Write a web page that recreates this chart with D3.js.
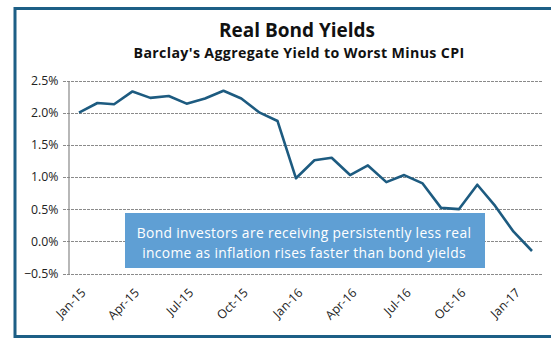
<!DOCTYPE html>
<html>
<head>
<meta charset="utf-8">
<script src="https://cdn.jsdelivr.net/npm/d3@7"></script>
<style>
  html, body { margin: 0; padding: 0; background: #fff; }
  svg { display: block; }
  text { font-family: "Open Sans", "Noto Sans", sans-serif; }
</style>
</head>
<body>
<svg id="chart" width="551" height="339"></svg>
<script>
// Monthly real yield (Barclay's Aggregate YTW minus CPI), Jan-2015 .. Feb-2017
const months = [
  "2015-01","2015-02","2015-03","2015-04","2015-05","2015-06","2015-07","2015-08",
  "2015-09","2015-10","2015-11","2015-12","2016-01","2016-02","2016-03","2016-04",
  "2016-05","2016-06","2016-07","2016-08","2016-09","2016-10","2016-11","2016-12",
  "2017-01","2017-02"
];
const realYield = [
  2.00, 2.15, 2.13, 2.33, 2.23, 2.26, 2.14, 2.22,
  2.34, 2.22, 2.00, 1.87, 0.98, 1.26, 1.30, 1.03,
  1.18, 0.92, 1.03, 0.90, 0.52, 0.50, 0.88, 0.55,
  0.15, -0.15
];
const yTicks = [-0.5, 0.0, 0.5, 1.0, 1.5, 2.0, 2.5];
const xTickMonths = ["2015-01","2015-04","2015-07","2015-10","2016-01","2016-04","2016-07","2016-10","2017-01"];

const title = "Real Bond Yields";
const subtitle = "Barclay's Aggregate Yield to Worst Minus CPI";
const noteLines = [
  "Bond investors are receiving persistently less real",
  "income as inflation rises faster than bond yields"
];

const parse = d3.utcParse("%Y-%m");
const data = months.map((m, i) => ({ date: parse(m), value: realYield[i] }));

const svg = d3.select("#chart");

// frame around the chart
svg.append("rect")
  .attr("x", 15).attr("y", 8.5)
  .attr("width", 560).attr("height", 328)
  .attr("fill", "none")
  .attr("stroke", "#1d5f86")
  .attr("stroke-width", 3);

const plotLeft = 68, plotRight = 543;
const x = d3.scaleUtc()
  .domain([parse("2015-01"), parse("2017-02")])
  .range([79, 532]);
const y = d3.scaleLinear()
  .domain([-0.5, 2.5])
  .range([273.5, 80.5]);

// titles
svg.append("text")
  .attr("x", 297).attr("y", 37)
  .attr("text-anchor", "middle")
  .attr("font-size", 19).attr("font-weight", 700)
  .attr("fill", "#111")
  .text(title);
svg.append("text")
  .attr("x", 299).attr("y", 58)
  .attr("text-anchor", "middle")
  .attr("font-size", 14.2).attr("font-weight", 700)
  .attr("letter-spacing", 0.35)
  .attr("fill", "#111")
  .text(subtitle);

// horizontal gridlines
svg.append("g")
  .selectAll("line")
  .data(yTicks)
  .join("line")
  .attr("x1", plotLeft - 5).attr("x2", plotRight)
  .attr("y1", d => Math.round(y(d)) + 0.5)
  .attr("y2", d => Math.round(y(d)) + 0.5)
  .attr("stroke", "#8a8a8a")
  .attr("stroke-width", 1.1)
  .attr("stroke-dasharray", "3,1");

// y axis
const yAxis = d3.axisLeft(y)
  .tickValues(yTicks)
  .tickSize(0)
  .tickPadding(10)
  .tickFormat(d => d3.format(".1f")(d) + "%");
const gy = svg.append("g")
  .attr("transform", `translate(${plotLeft + 0.5},0)`)
  .call(yAxis);
gy.select(".domain").attr("stroke", "#888").attr("stroke-width", 1.2);
gy.selectAll("text")
  .attr("font-size", 12.3)
  .attr("fill", "#222");

// x axis labels, rotated
const xAxis = d3.axisBottom(x)
  .tickValues(xTickMonths.map(parse))
  .tickSize(0)
  .tickFormat(d3.utcFormat("%b-%y"));
const gx = svg.append("g")
  .attr("transform", `translate(0,${y(-0.5)})`)
  .call(xAxis);
gx.select(".domain").remove();
gx.selectAll("text")
  .attr("font-size", 12.3)
  .attr("fill", "#222")
  .attr("text-anchor", "end")
  .attr("dy", 0)
  .attr("y", 0)
  .attr("transform", "translate(7,20) rotate(-45)");

// annotation box
svg.append("rect")
  .attr("x", 125).attr("y", 213)
  .attr("width", 360).attr("height", 55)
  .attr("fill", "#5f9fd4");
svg.append("g")
  .selectAll("text")
  .data(noteLines)
  .join("text")
  .attr("x", 304)
  .attr("y", (d, i) => 238 + i * 20)
  .attr("text-anchor", "middle")
  .attr("font-size", 13.8)
  .attr("letter-spacing", 0.35)
  .attr("fill", "#fff")
  .text(d => d);

// yield line
const line = d3.line()
  .x(d => x(d.date))
  .y(d => y(d.value));
svg.append("path")
  .datum(data)
  .attr("d", line)
  .attr("fill", "none")
  .attr("stroke", "#1d5b80")
  .attr("stroke-width", 2.6)
  .attr("stroke-linejoin", "round");
</script>
</body>
</html>
